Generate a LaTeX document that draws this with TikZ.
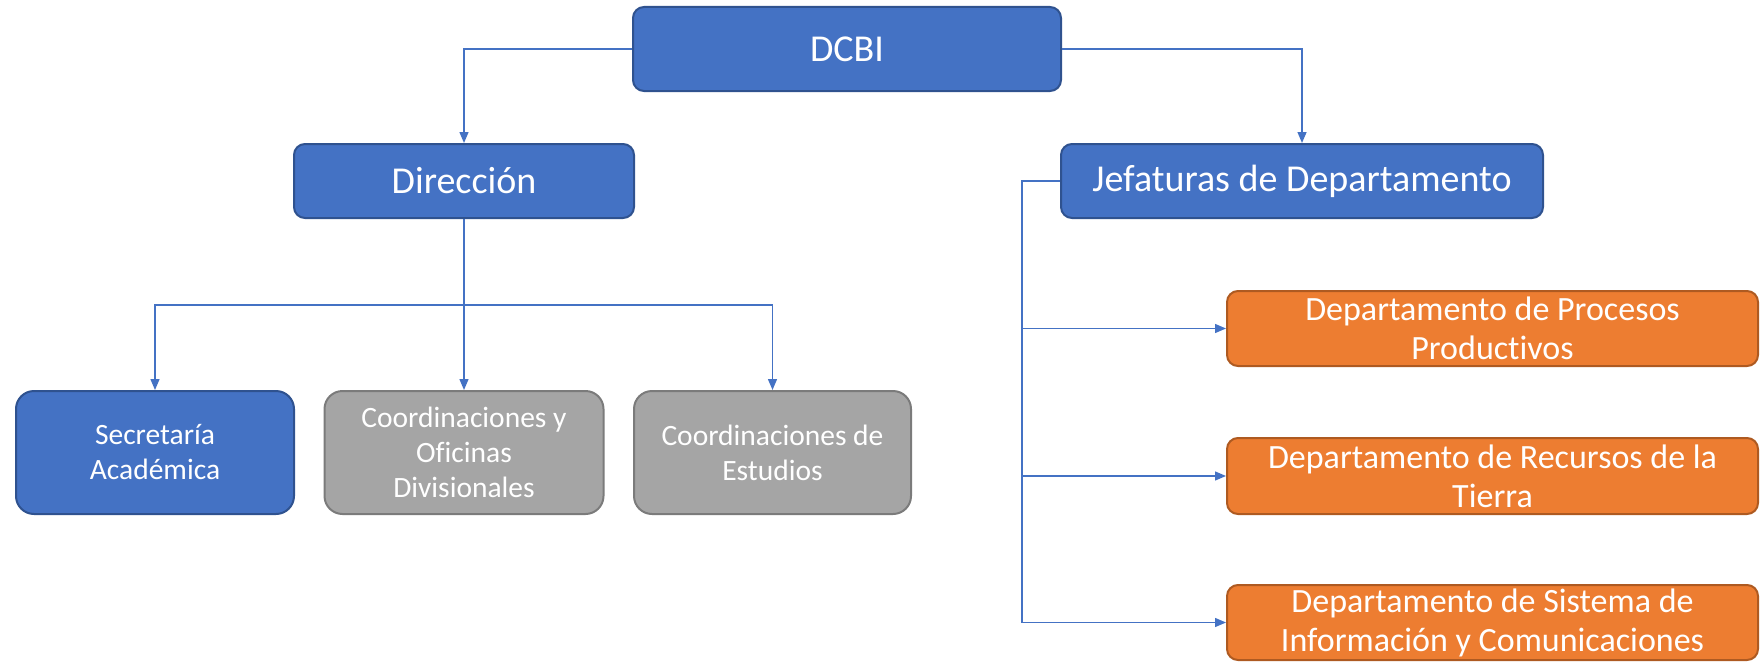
\documentclass[tikz,border=0pt]{standalone}
\usepackage{fontspec}
\setmainfont{Carlito}[Ligatures={NoCommon}]
\usetikzlibrary{arrows.meta}
\definecolor{cblue}{HTML}{4472C4}
\definecolor{cblueb}{HTML}{2F528F}
\definecolor{cgray}{HTML}{A5A5A5}
\definecolor{cgrayb}{HTML}{7B7B7B}
\definecolor{corange}{HTML}{ED7D31}
\definecolor{coranb}{HTML}{AE5A21}
\tikzset{
  box/.style={rectangle, rounded corners=11pt, line width=2pt, inner sep=0pt, align=center, text=white},
  bluebox/.style={box, fill=cblue, draw=cblueb},
  graybox/.style={box, fill=cgray, draw=cgrayb, rounded corners=18pt},
  orangebox/.style={box, fill=corange, draw=coranb, font=\fontsize{34}{39}\selectfont},
  big/.style={font=\fontsize{38}{44}\selectfont},
  small/.style={font=\fontsize{29.5}{35}\selectfont, rounded corners=18pt},
  conn/.style={draw=cblue, line width=1.4pt},
  arr/.style={conn, -{Triangle[length=11pt,width=9pt]}}
}
\begin{document}
\begin{tikzpicture}[x=1pt,y=-1pt]
\useasboundingbox (0,0) rectangle (1760,661);
\clip (0,0) rectangle (1760,661);
\node[bluebox, big, minimum width=428pt, minimum height=84pt] (dcbi) at (847,49) {DCBI};
\node[bluebox, big, minimum width=340pt, minimum height=74pt] (dir) at (464,181) {Dirección};
\node[bluebox, big, minimum width=482pt, minimum height=74pt] (jef) at (1302,181) {Jefaturas de Departamento};
\node[bluebox, small, minimum width=278pt, minimum height=123pt] (sec) at (155,452.5) {Secretaría\\Académica};
\node[graybox, small, minimum width=279pt, minimum height=123pt] (coy) at (464,452.5) {Coordinaciones y\\Oficinas\\Divisionales};
\node[graybox, small, minimum width=277pt, minimum height=123pt] (coe) at (772.5,452.5) {Coordinaciones de\\Estudios};
\node[orangebox, minimum width=531pt, minimum height=75pt] (dp1) at (1492.5,328.5) {Departamento de Procesos\\Productivos};
\node[orangebox, minimum width=531pt, minimum height=76pt] (dp2) at (1492.5,476) {Departamento de Recursos de la\\Tierra};
\node[orangebox, minimum width=531pt, minimum height=75pt] (dp3) at (1492.5,622.5) {Departamento de Sistema de\\Información y Comunicaciones};
\coordinate (bus) at (464,305);
\coordinate (trunk) at (1022,622.5);
\draw[arr] (dcbi.west) -| (dir.north);
\draw[arr] (dcbi.east) -| (jef.north);
\draw[arr] (dir.south) -- (coy.north);
\draw[arr] (bus) -| (sec.north);
\draw[arr] (bus) -| (coe.north);
\draw[arr] (jef.west) -| (trunk) -- (dp3.west);
\draw[arr] (trunk |- dp1.west) -- (dp1.west);
\draw[arr] (trunk |- dp2.west) -- (dp2.west);
\end{tikzpicture}
\end{document}
